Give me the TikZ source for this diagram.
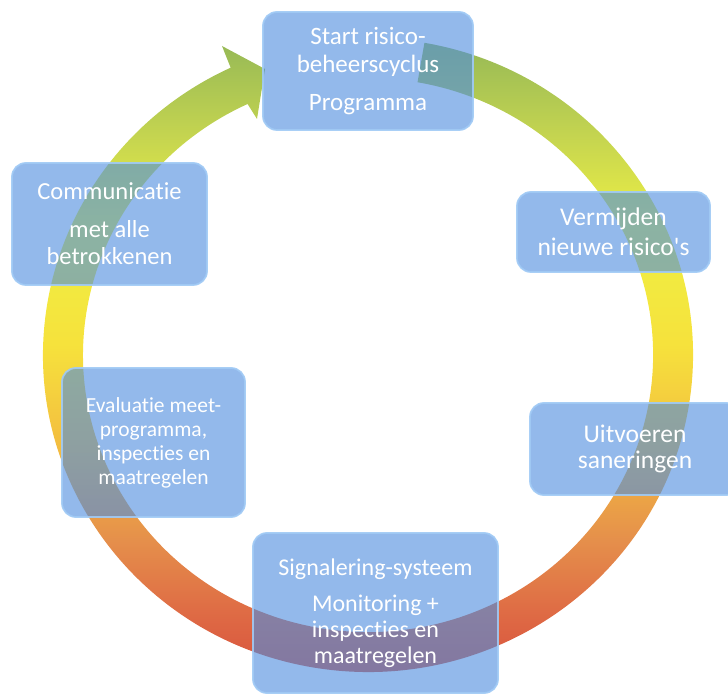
\documentclass[tikz,border=0pt]{standalone}
\usepackage{fontspec}
\setmainfont[Ligatures={NoCommon}]{Carlito}
\definecolor{rood}{RGB}{214,74,58}
\definecolor{roodoranje}{RGB}{222,104,68}
\definecolor{oranje}{RGB}{229,143,75}
\definecolor{goudgeel}{RGB}{243,188,64}
\definecolor{geel}{RGB}{246,226,60}
\definecolor{lichtgeel}{RGB}{238,240,68}
\definecolor{geelgroen}{RGB}{196,212,80}
\definecolor{olijfgroen}{RGB}{150,185,86}
\definecolor{blokblauw}{RGB}{80,142,222}
\definecolor{blokrand}{RGB}{160,202,245}
\pgfdeclareverticalshading{ringkleur}{100bp}{color(0bp)=(rood); color(25bp)=(rood);
  color(31bp)=(roodoranje); color(37bp)=(oranje); color(44bp)=(goudgeel);
  color(52bp)=(geel); color(61bp)=(lichtgeel); color(68bp)=(geelgroen);
  color(75bp)=(olijfgroen); color(100bp)=(olijfgroen)}
\tikzset{
  blok/.style={rectangle, rounded corners=14pt, fill=blokblauw, fill opacity=0.62,
    draw=blokrand, draw opacity=0.9, line width=1.8pt, text=white, text opacity=1,
    align=center, inner sep=0pt},
}
\begin{document}
\begin{tikzpicture}[x=1pt,y=1pt]
   \useasboundingbox (0,0) rectangle (728,696);
   % ring met pijlpunt
   \shade[shading=ringkleur] (368,341) ++(80:325 and 317)
      arc[start angle=80, end angle=-245, x radius=325, y radius=317]
      -- (222,650) -- (265,627) -- (257,577) -- (247.6,592)
      arc[start angle=-245, end angle=80, x radius=285, y radius=277] -- cycle;
   % blokken
   \node[blok, minimum width=210pt, minimum height=118pt, font=\fontsize{25}{28}\selectfont] (start) at (368,625)
      {Start risico-\\beheerscyclus\\[10pt]Programma};
   \node[blok, minimum width=193pt, minimum height=80pt, font=\fontsize{25.5}{30}\selectfont] (vermijden) at (613.5,464)
      {Vermijden\\nieuwe risico\textquotesingle s};
   \node[blok, minimum width=210pt, minimum height=92pt, font=\fontsize{25.5}{26}\selectfont] (uitvoeren) at (635,247)
      {Uitvoeren\\saneringen};
   \node[blok, minimum width=245pt, minimum height=160pt, font=\fontsize{24}{26}\selectfont] (signalering) at (375.5,83)
      {Signalering-systeem\\[10pt]Monitoring +\\inspecties en\\maatregelen};
   \node[blok, minimum width=183pt, minimum height=149pt, font=\fontsize{21.5}{24}\selectfont] (evaluatie) at (153.5,253.5)
      {Evaluatie meet-\\programma,\\inspecties en\\maatregelen};
   \node[blok, minimum width=195pt, minimum height=122pt, font=\fontsize{24.5}{27}\selectfont] (communicatie) at (109.5,472)
      {Communicatie\\[11pt]met alle\\betrokkenen};
\end{tikzpicture}
\end{document}
